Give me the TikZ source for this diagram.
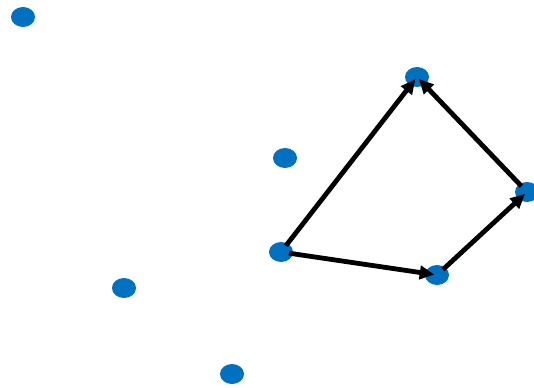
\documentclass[tikz,border=0pt]{standalone}
\usetikzlibrary{arrows.meta}
\usetikzlibrary{shapes.geometric}

\definecolor{nodeblue}{RGB}{0,112,192}

\begin{document}
\begin{tikzpicture}[x=0.75pt,y=-0.75pt,
        dot/.style={ellipse,fill=nodeblue,inner sep=0pt,minimum width=18pt,minimum height=15pt},
        edge/.style={line width=3.6pt,black,-{Triangle[length=11pt,width=10pt]},shorten >=2pt,shorten <=6pt}]
        \useasboundingbox (0,0) rectangle (534,388);

        \node[dot] (v0) at (23,17) {};
        \node[dot] (v1) at (417,77) {};
        \node[dot] (v2) at (285,158) {};
        \node[dot] (v3) at (527,192) {};
        \node[dot] (v4) at (281,252) {};
        \node[dot] (v5) at (437,275) {};
        \node[dot] (v6) at (124,288) {};
        \node[dot] (v7) at (232,374) {};

        \draw[edge] (v4.center) -- (v1.center);
        \draw[edge] (v3.center) -- (v1.center);
        \draw[edge] (v4.center) -- (v5.center);
        \draw[edge] (v5.center) -- (v3.center);
    \end{tikzpicture}
\end{document}
